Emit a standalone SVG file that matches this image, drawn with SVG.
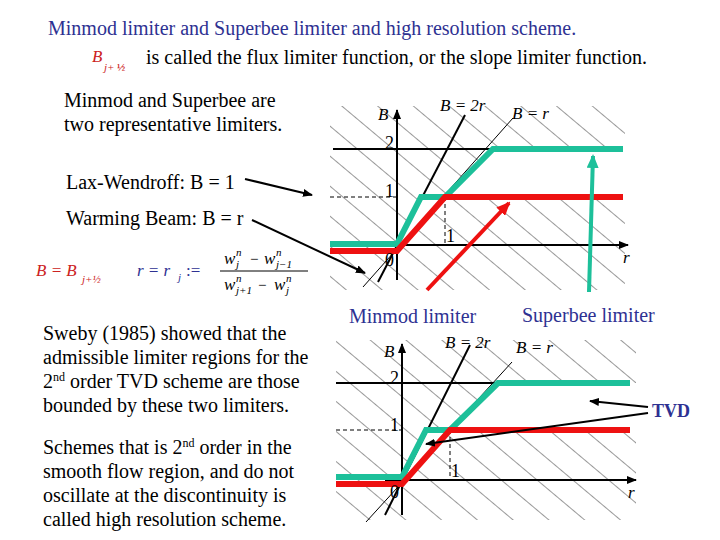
<svg xmlns="http://www.w3.org/2000/svg" width="720" height="540" viewBox="0 0 720 540">
<style>
text{font-family:"Liberation Serif",serif}
.t{font-size:20px;fill:#000}
.h{font-size:20px;fill:#2e3192}
.m{font-style:italic;font-size:17px}
.s{font-style:italic;font-size:11px}
.ax{stroke:#000;stroke-width:2;fill:none}
.thin{stroke:#000;stroke-width:1;fill:none}
.dash{stroke:#000;stroke-width:1;stroke-dasharray:4 3;fill:none}
.g{stroke:#1dc09a;stroke-width:6;fill:none}
.r{stroke:#ee1111;stroke-width:6;fill:none}
.lbl{font-size:18px;fill:#000}
</style>
<defs>
<pattern id="hatch" patternUnits="userSpaceOnUse" width="23" height="23" patternTransform="rotate(-50)">
<line x1="0" y1="0" x2="0" y2="23" stroke="#000" stroke-width="0.8"/>
</pattern>
<marker id="ab" markerWidth="10" markerHeight="8" refX="9" refY="4" orient="auto" markerUnits="userSpaceOnUse"><path d="M0,0 L10,4 L0,8 z" fill="#000"/></marker>
<marker id="ar" markerWidth="14" markerHeight="12" refX="12" refY="6" orient="auto" markerUnits="userSpaceOnUse"><path d="M0,0 L14,6 L0,12 z" fill="#ee1111"/></marker>
<marker id="ag" markerWidth="14" markerHeight="12" refX="12" refY="6" orient="auto" markerUnits="userSpaceOnUse"><path d="M0,0 L14,6 L0,12 z" fill="#1dc09a"/></marker>
</defs>

<g id="title">
<text x="48" y="35" class="h">Minmod limiter and Superbee limiter and high resolution scheme.</text>
<text x="92" y="62" fill="#cc2222" class="m">B</text>
<text x="104" y="71" fill="#cc2222" class="s">j+</text>
<text x="117" y="71" fill="#cc2222" font-size="11" font-weight="bold">½</text>
<text x="146" y="64" class="t">is called the flux limiter function, or the slope limiter function.</text>
</g>

<g id="left-text">
<text x="64" y="107" class="t">Minmod and Superbee  are</text>
<text x="64" y="131" class="t">two representative limiters.</text>
<text x="66" y="189" class="t">Lax-Wendroff: B = 1</text>
<text x="66" y="225" class="t">Warming Beam: B = r</text>
<text x="36" y="276" fill="#cc2222" class="m">B = B</text>
<text x="82" y="283" fill="#cc2222" class="s">j+½</text>
<text x="137" y="276" fill="#2e3192" class="m">r = r</text>
<text x="178" y="281" fill="#2e3192" class="s">j</text>
<text x="186" y="276" fill="#2e3192" font-size="17">:=</text>
<line x1="220" y1="271" x2="308" y2="271" stroke="#000" stroke-width="1"/>
<text x="224" y="264" class="m" font-size="15">w</text>
<text x="236" y="256" class="s">n</text><text x="236" y="268" class="s">j</text>
<text x="250" y="264" font-size="15">−</text>
<text x="264" y="264" class="m" font-size="15">w</text>
<text x="276" y="256" class="s">n</text><text x="276" y="268" class="s">j−1</text>
<text x="224" y="290" class="m" font-size="15">w</text>
<text x="236" y="282" class="s">n</text><text x="236" y="294" class="s">j+1</text>
<text x="258" y="290" font-size="15">−</text>
<text x="274" y="290" class="m" font-size="15">w</text>
<text x="286" y="282" class="s">n</text><text x="286" y="294" class="s">j</text>
<text x="43" y="340" class="t">Sweby (1985) showed that the</text>
<text x="43" y="364" class="t">admissible limiter regions for the</text>
<text x="43" y="388" class="t">2<tspan font-size="12" dy="-7">nd</tspan><tspan dy="7"> order TVD scheme are those</tspan></text>
<text x="43" y="412" class="t">bounded by these two limiters.</text>
<text x="43" y="454" class="t">Schemes that is 2<tspan font-size="12" dy="-7">nd</tspan><tspan dy="7"> order in the</tspan></text>
<text x="43" y="478" class="t">smooth flow region, and do not</text>
<text x="43" y="502" class="t">oscillate at the discontinuity is</text>
<text x="43" y="526" class="t">called high resolution scheme.</text>
</g>

<g id="graph-top">
<rect x="330" y="106" width="295" height="184" fill="url(#hatch)"/>
<polygon points="397,245 421,197 445,197 493,149 625,149 625,197 445,197" fill="#fff"/>
<line x1="333" y1="149" x2="490" y2="149" class="ax"/>
<line x1="330" y1="197" x2="397" y2="197" class="dash"/>
<line x1="445" y1="197" x2="445" y2="245" class="dash"/>
<line x1="397" y1="280" x2="397" y2="110" class="ax" marker-end="url(#ab)"/>
<line x1="380" y1="245" x2="628" y2="245" class="ax" marker-end="url(#ab)"/>
<line x1="378" y1="282" x2="465" y2="115" class="ax" stroke-width="1.5"/>
<line x1="363" y1="287" x2="513" y2="118" class="thin"/>
<polyline points="330,244 397,244 421,197 445,197 493,149 623,149" class="g"/>
<polyline points="330,251 397,251 445,197 623,197" class="r"/>
<text x="378" y="120" class="m">B</text>
<text x="385" y="149" class="lbl">2</text>
<text x="385" y="197" class="lbl">1</text>
<text x="446" y="242" class="lbl">1</text>
<text x="385" y="266" class="lbl">0</text>
<text x="623" y="263" class="m" font-size="13">r</text>
<text x="440" y="111" class="m">B = 2r</text>
<text x="512" y="119" class="m">B = r</text>
<line x1="427" y1="290" x2="509" y2="203" stroke="#ee1111" stroke-width="4" marker-end="url(#ar)"/>
<line x1="589" y1="292" x2="593" y2="156" stroke="#1dc09a" stroke-width="4" marker-end="url(#ag)"/>
</g>

<g id="graph-bottom">
<rect x="336" y="340" width="300" height="180" fill="url(#hatch)"/>
<polygon points="402,480 426,430 450,430 498,383 636,383 636,430 450,430" fill="#fff"/>
<line x1="336" y1="383" x2="495" y2="383" class="ax"/>
<line x1="336" y1="430" x2="402" y2="430" class="dash"/>
<line x1="450" y1="430" x2="450" y2="480" class="dash"/>
<line x1="402" y1="515" x2="402" y2="344" class="ax" marker-end="url(#ab)"/>
<line x1="385" y1="480" x2="636" y2="480" class="ax" marker-end="url(#ab)"/>
<line x1="385" y1="515" x2="470" y2="345" class="ax" stroke-width="1.5"/>
<line x1="366" y1="522" x2="512" y2="362" class="thin"/>
<polyline points="336,477 402,477 426,430 450,430 498,383 630,383" class="g"/>
<polyline points="336,484 402,484 450,430 630,430" class="r"/>
<text x="384" y="357" class="m">B</text>
<text x="390" y="384" class="lbl">2</text>
<text x="390" y="431" class="lbl">1</text>
<text x="451" y="477" class="lbl">1</text>
<text x="390" y="498" class="lbl">0</text>
<text x="628" y="498" class="m" font-size="13">r</text>
<text x="445" y="348" class="m">B = 2r</text>
<text x="516" y="353" class="m">B = r</text>
</g>

<g id="labels">
<text x="349" y="323" class="h" font-size="17">Minmod limiter</text>
<text x="522" y="322" class="h" font-size="17">Superbee limiter</text>
<text x="652" y="417" fill="#2e3192" font-size="18" font-weight="bold">TVD</text>
</g>

<g id="connectors">
<line x1="245" y1="179" x2="312" y2="195" class="ax" marker-end="url(#ab)"/>
<line x1="252" y1="220" x2="365" y2="273" class="ax" marker-end="url(#ab)"/>
<line x1="648" y1="407" x2="590" y2="401" class="ax" marker-end="url(#ab)"/>
<line x1="648" y1="413" x2="426" y2="444" class="ax" marker-end="url(#ab)"/>
</g>
</svg>
